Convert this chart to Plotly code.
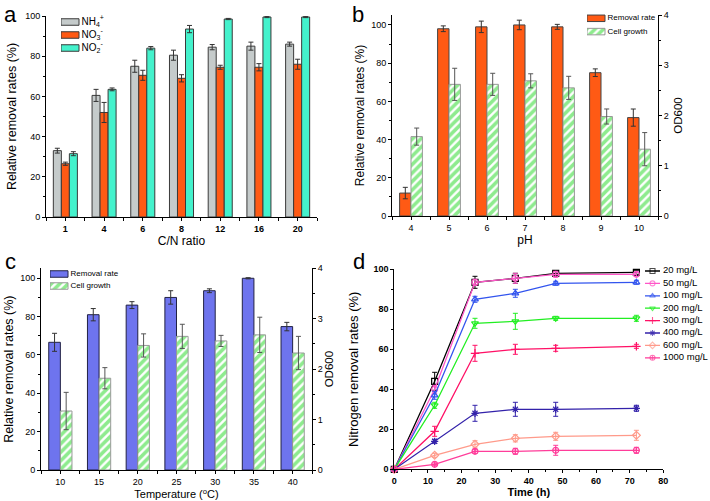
import plotly.graph_objects as go

# ---------------- data ----------------
# panel a
cn_ratio = ["1", "4", "6", "8", "12", "16", "20"]
nh4 = [33, 60.5, 75, 80.5, 84.5, 85, 86]
nh4_err = [1.2, 3, 3, 2.5, 1.3, 2, 1]
no3 = [26.5, 52, 70.5, 69, 74.5, 74.5, 76]
no3_err = [0.8, 5, 2.5, 1.8, 1, 1.8, 2.5]
no2 = [31.5, 63.5, 84, 93.5, 98.5, 99.5, 99.5]
no2_err = [1, 0.7, 0.8, 1.8, 0.3, 0.3, 0.3]

# panel b
ph = ["4", "5", "6", "7", "8", "9", "10"]
ph_removal = [12, 98, 99, 100, 99, 75, 51.5]
ph_removal_err = [3, 1.5, 3, 2.5, 1.3, 2, 4.5]
ph_od = [1.58, 2.62, 2.62, 2.69, 2.55, 1.98, 1.33]
ph_od_err = [0.17, 0.32, 0.22, 0.14, 0.23, 0.15, 0.33]

# panel c
temp = ["10", "15", "20", "25", "30", "35", "40"]
t_removal = [66.6, 81, 86, 90, 93.5, 100, 74.8]
t_removal_err = [4.7, 3.2, 1.8, 3.5, 1, 0.3, 2.2]
t_od = [1.17, 1.82, 2.47, 2.65, 2.56, 2.68, 2.32]
t_od_err = [0.37, 0.21, 0.23, 0.24, 0.11, 0.35, 0.33]

# panel d
time_h = [0, 12, 24, 36, 48, 72]
conc_labels = ["20 mg/L", "50 mg/L", "100 mg/L", "200 mg/L",
               "300 mg/L", "400 mg/L", "600 mg/L", "1000 mg/L"]
n20 = [0, 44, 93.5, 95.5, 98, 98.5]
n50 = [0, 40, 93.5, 95.5, 97.5, 97.5]
n100 = [0, 37, 85, 88, 93, 93.5]
n200 = [0, 32, 73, 74, 75.5, 75.5]
n300 = [0, 19, 58, 60, 60.5, 61.5]
n400 = [0, 14, 28, 30, 30, 30.5]
n600 = [0, 7, 12.5, 15.5, 16.5, 17]
n1000 = [0, 2.5, 9, 9, 9.5, 9.5]
e20 = [0, 4.5, 3, 2.5, 1, 1]
e50 = [0, 2, 1.5, 2.5, 1.5, 1]
e100 = [0, 2, 1.5, 2, 1, 1]
e200 = [0, 1.5, 2.5, 4, 1, 1.5]
e300 = [0, 2.5, 4, 2.5, 1.5, 1]
e400 = [0, 1, 4, 3.5, 3.5, 1.5]
e600 = [0, 1, 1.8, 1.8, 2, 2.5]
e1000 = [0, 0.7, 1, 1.5, 2.5, 1.5]

# ---------------- styles ----------------
FONT = "Liberation Sans, Arial, sans-serif"
W, H = 710, 501
EB = dict(type="data", color="#333333", thickness=1, width=2.5)
HATCH = dict(shape="/", fgcolor="#1ed81e", bgcolor="white", size=6, solidity=0.6)

fig = go.Figure()

# ---------- panel a ----------
idx_a = list(range(len(cn_ratio)))
bw3 = 0.207
series_a = [("NH<sub>4</sub><sup>+</sup>", nh4, nh4_err, "#c5cbcb"),
            ("NO<sub>3</sub><sup>-</sup>", no3, no3_err, "#ff5a14"),
            ("NO<sub>2</sub><sup>-</sup>", no2, no2_err, "#44f2cc")]
for i, (nm, vals, errs, col) in enumerate(series_a):
    fig.add_trace(go.Bar(
        x=idx_a, y=vals, name=nm, width=bw3, offset=-1.5 * bw3 + i * bw3,
        marker=dict(color=col, line=dict(color="#3a3a3a", width=1)),
        error_y=dict(array=errs, **EB), xaxis="x", yaxis="y"))

# ---------- panel b ----------
idx_b = list(range(len(ph)))
REM_B = dict(color="#ff5a14", line=dict(color="#444444", width=1))
CELL = dict(color="white", pattern=HATCH, line=dict(color="#999999", width=1))
fig.add_trace(go.Bar(
    x=idx_b, y=ph_removal, name="Removal rate", width=0.3, offset=-0.3,
    marker=REM_B, error_y=dict(array=ph_removal_err, **EB), xaxis="x2", yaxis="y2"))
fig.add_trace(go.Bar(
    x=idx_b, y=ph_od, name="Cell growth", width=0.3, offset=0.0,
    marker=CELL, error_y=dict(array=ph_od_err, **dict(EB, color="#555555")),
    xaxis="x2", yaxis="y5"))

# ---------- panel c ----------
idx_c = list(range(len(temp)))
REM_C = dict(color="#6e74ee", line=dict(color="#222244", width=1))
fig.add_trace(go.Bar(
    x=idx_c, y=t_removal, name="Removal rate", width=0.3, offset=-0.3,
    marker=REM_C, error_y=dict(array=t_removal_err, **EB), xaxis="x3", yaxis="y3"))
fig.add_trace(go.Bar(
    x=idx_c, y=t_od, name="Cell growth", width=0.3, offset=0.0,
    marker=CELL, error_y=dict(array=t_od_err, **dict(EB, color="#555555")),
    xaxis="x3", yaxis="y6"))

# ---------- panel d ----------
series_d = [n20, n50, n100, n200, n300, n400, n600, n1000]
errs_d = [e20, e50, e100, e200, e300, e400, e600, e1000]
colors_d = ["#000000", "#ff55c8", "#3355ee", "#22ee22",
            "#ff1166", "#3322aa", "#ff9a8a", "#ff3d9a"]
symbols_d = ["square-open", "circle-open", "triangle-up-open", "triangle-down-open",
             "cross-thin-open", "asterisk-open", "diamond-open", "circle-cross-open"]
for lab, vals, errs, col, sym in zip(conc_labels, series_d, errs_d, colors_d, symbols_d):
    fig.add_trace(go.Scatter(
        x=time_h, y=vals, name=lab, mode="lines+markers",
        line=dict(color=col, width=1.3),
        marker=dict(symbol=sym, size=6, color=col, line=dict(color=col, width=1.2)),
        error_y=dict(type="data", array=errs, color=col, thickness=1, width=2.5),
        cliponaxis=False, xaxis="x4", yaxis="y4"))

# ---------------- custom compact legends (hidden helper axes) ----------------
LFONT = dict(family=FONT, color="black")

def legend_box(n, xa, ya, x0, y_first, row_h, width):
    """Register a hidden axis pair whose units are pixels (x) and rows (y)."""
    y_top = y_first - row_h / 2
    y_bot = y_top + n * row_h
    ax = dict(domain=[x0 / W, min((x0 + width) / W, 1)], range=[0, width],
              visible=False, fixedrange=True, anchor=ya)
    ay = dict(domain=[1 - y_bot / H, 1 - y_top / H], range=[n - 0.5, -0.5],
              visible=False, fixedrange=True, anchor=xa)
    return ax, ay

def bar_legend(names, markers, xa, ya, fsize, row_h):
    sw_h = 6.5 / row_h
    for i, (nm, mk) in enumerate(zip(names, markers)):
        fig.add_trace(go.Bar(orientation="h", y=[i], x=[18], base=[0], width=sw_h,
                             offset=-sw_h / 2, marker=mk, xaxis=xa, yaxis=ya,
                             hoverinfo="skip"))
        fig.add_trace(go.Scatter(x=[20.5], y=[i], mode="text", text=[nm],
                                 textposition="middle right", cliponaxis=False,
                                 textfont=dict(size=fsize, **LFONT),
                                 xaxis=xa, yaxis=ya, hoverinfo="skip"))

# legend a
lax_a, lay_a = legend_box(3, "x5", "y7", 61, 22, 13, 60)
bar_legend([s[0] for s in series_a],
           [dict(color=s[3], line=dict(color="#3a3a3a", width=1)) for s in series_a],
           "x5", "y7", 10, 13)
# legend b
lax_b, lay_b = legend_box(2, "x6", "y8", 587, 18.3, 13.3, 70)
bar_legend(["Removal rate", "Cell growth"], [REM_B, CELL], "x6", "y8", 8, 13.3)
# legend c
lax_c, lay_c = legend_box(2, "x7", "y9", 50, 274, 12, 70)
bar_legend(["Removal rate", "Cell growth"], [REM_C, CELL], "x7", "y9", 8, 12)
# legend d
lax_d, lay_d = legend_box(8, "x8", "y10", 645, 271, 12.4, 65)
for i, (lab, col, sym) in enumerate(zip(conc_labels, colors_d, symbols_d)):
    fig.add_trace(go.Scatter(
        x=[0, 7.5, 15], y=[i, i, i], mode="lines+markers",
        line=dict(color=col, width=1.3),
        marker=dict(symbol=sym, size=[0, 5, 0], color=col, line=dict(color=col, width=1.1)),
        cliponaxis=False, xaxis="x8", yaxis="y10", hoverinfo="skip"))
    fig.add_trace(go.Scatter(
        x=[18], y=[i], mode="text", text=[lab], textposition="middle right",
        cliponaxis=False, textfont=dict(size=9.5, **LFONT),
        xaxis="x8", yaxis="y10", hoverinfo="skip"))

# ---------------- axes ----------------
def lin_axis(**kw):
    base = dict(showline=True, linecolor="black", linewidth=1, ticks="outside",
                ticklen=3, tickcolor="black", showgrid=False, zeroline=False,
                automargin=False,
                tickfont=dict(family=FONT, size=9, color="black"),
                title_font=dict(family=FONT, size=12, color="black"))
    base.update(kw)
    return base

cat_minor = dict(tickvals=[i - 0.5 for i in range(8)], ticklen=3, tickcolor="black")
y_minor = dict(dtick=10, ticklen=2, tickcolor="black")
od_minor = dict(dtick=0.5, ticklen=2, tickcolor="black")

dom_a_x = [46 / W, 317 / W]
dom_a_y = [1 - 217 / H, 1 - 16 / H]
dom_b_x = [392 / W, 658 / W]
dom_b_y = [1 - 216 / H, 1 - 15 / H]
dom_c_x = [41 / W, 312 / W]
dom_c_y = [1 - 470 / H, 1 - 268.3 / H]
dom_d_x = [394.3 / W, 663.3 / W]
dom_d_y = [1 - 469.3 / H, 1 - 269.3 / H]

BOLD9 = dict(family=FONT, size=9, color="black", weight="bold")

fig.update_layout(
    xaxis=lin_axis(domain=dom_a_x, anchor="y", range=[-0.5, 6.5],
                   tickmode="array", tickvals=idx_a, ticktext=cn_ratio, tickfont=BOLD9,
                   minor=cat_minor, title=dict(text="C/N ratio", standoff=3)),
    yaxis=lin_axis(domain=dom_a_y, anchor="x", range=[0, 100], dtick=20,
                   minor=y_minor,
                   title=dict(text="Relative removal rates (%)", standoff=5,
                              font=dict(family=FONT, size=12.5, color="black"))),
    xaxis2=lin_axis(domain=dom_b_x, anchor="y2", range=[-0.5, 6.5],
                    tickmode="array", tickvals=idx_b, ticktext=ph,
                    minor=cat_minor, title=dict(text="pH", standoff=3)),
    yaxis2=lin_axis(domain=dom_b_y, anchor="x2", range=[0, 105.2], dtick=20,
                    minor=y_minor, title=dict(text="Relative removal rates (%)", standoff=3)),
    yaxis5=lin_axis(overlaying="y2", side="right", anchor="x2", range=[0, 4], dtick=1,
                    minor=od_minor,
                    title=dict(text="OD600", standoff=6,
                               font=dict(family=FONT, size=11.5, color="black"))),
    xaxis3=lin_axis(domain=dom_c_x, anchor="y3", range=[-0.5, 6.5],
                    tickmode="array", tickvals=idx_c, ticktext=temp,
                    minor=cat_minor,
                    title=dict(text="Temperature (<sup>o</sup>C)", standoff=0,
                               font=dict(family=FONT, size=11, color="black"))),
    yaxis3=lin_axis(domain=dom_c_y, anchor="x3", range=[0, 105.2], dtick=20,
                    minor=y_minor,
                    title=dict(text="Relative removal rates (%)", standoff=3,
                               font=dict(family=FONT, size=12.5, color="black"))),
    yaxis6=lin_axis(overlaying="y3", side="right", anchor="x3", range=[0, 4], dtick=1,
                    minor=od_minor,
                    title=dict(text="OD600", standoff=3,
                               font=dict(family=FONT, size=11.5, color="black"))),
    xaxis4=lin_axis(domain=dom_d_x, anchor="y4", range=[0, 80], dtick=10,
                    tickfont=BOLD9, minor=dict(dtick=5, ticklen=2, tickcolor="black"),
                    title=dict(text="Time (h)", standoff=0,
                               font=dict(family=FONT, size=11, color="black", weight="bold"))),
    yaxis4=lin_axis(domain=dom_d_y, anchor="x4", range=[0, 100], dtick=20,
                    tickfont=BOLD9, minor=y_minor,
                    title=dict(text="Nitrogen removal rates (%)", standoff=11,
                               font=dict(family=FONT, size=13, color="black"))),
    xaxis5=lax_a, yaxis7=lay_a, xaxis6=lax_b, yaxis8=lay_b,
    xaxis7=lax_c, yaxis9=lay_c, xaxis8=lax_d, yaxis10=lay_d,
)

for letter, xp, yp in [("a", 2, -3), ("b", 350, -3), ("c", 3, 247), ("d", 351, 247)]:
    fig.add_annotation(text=letter, x=xp / W, y=min(1 - yp / H, 1), xref="paper", yref="paper",
                       xanchor="left", yanchor="top", showarrow=False,
                       font=dict(family=FONT, size=22, color="black"))

fig.update_layout(
    width=W, height=H, margin=dict(l=0, r=0, t=0, b=0, autoexpand=False),
    paper_bgcolor="white", plot_bgcolor="rgba(0,0,0,0)", showlegend=False,
    font=dict(family=FONT, color="black"),
)

fig.write_html("out.html", config={"displayModeBar": False},
               post_script="document.body.style.margin='0';document.body.style.padding='0';"
                           "document.body.style.overflow='hidden';")
